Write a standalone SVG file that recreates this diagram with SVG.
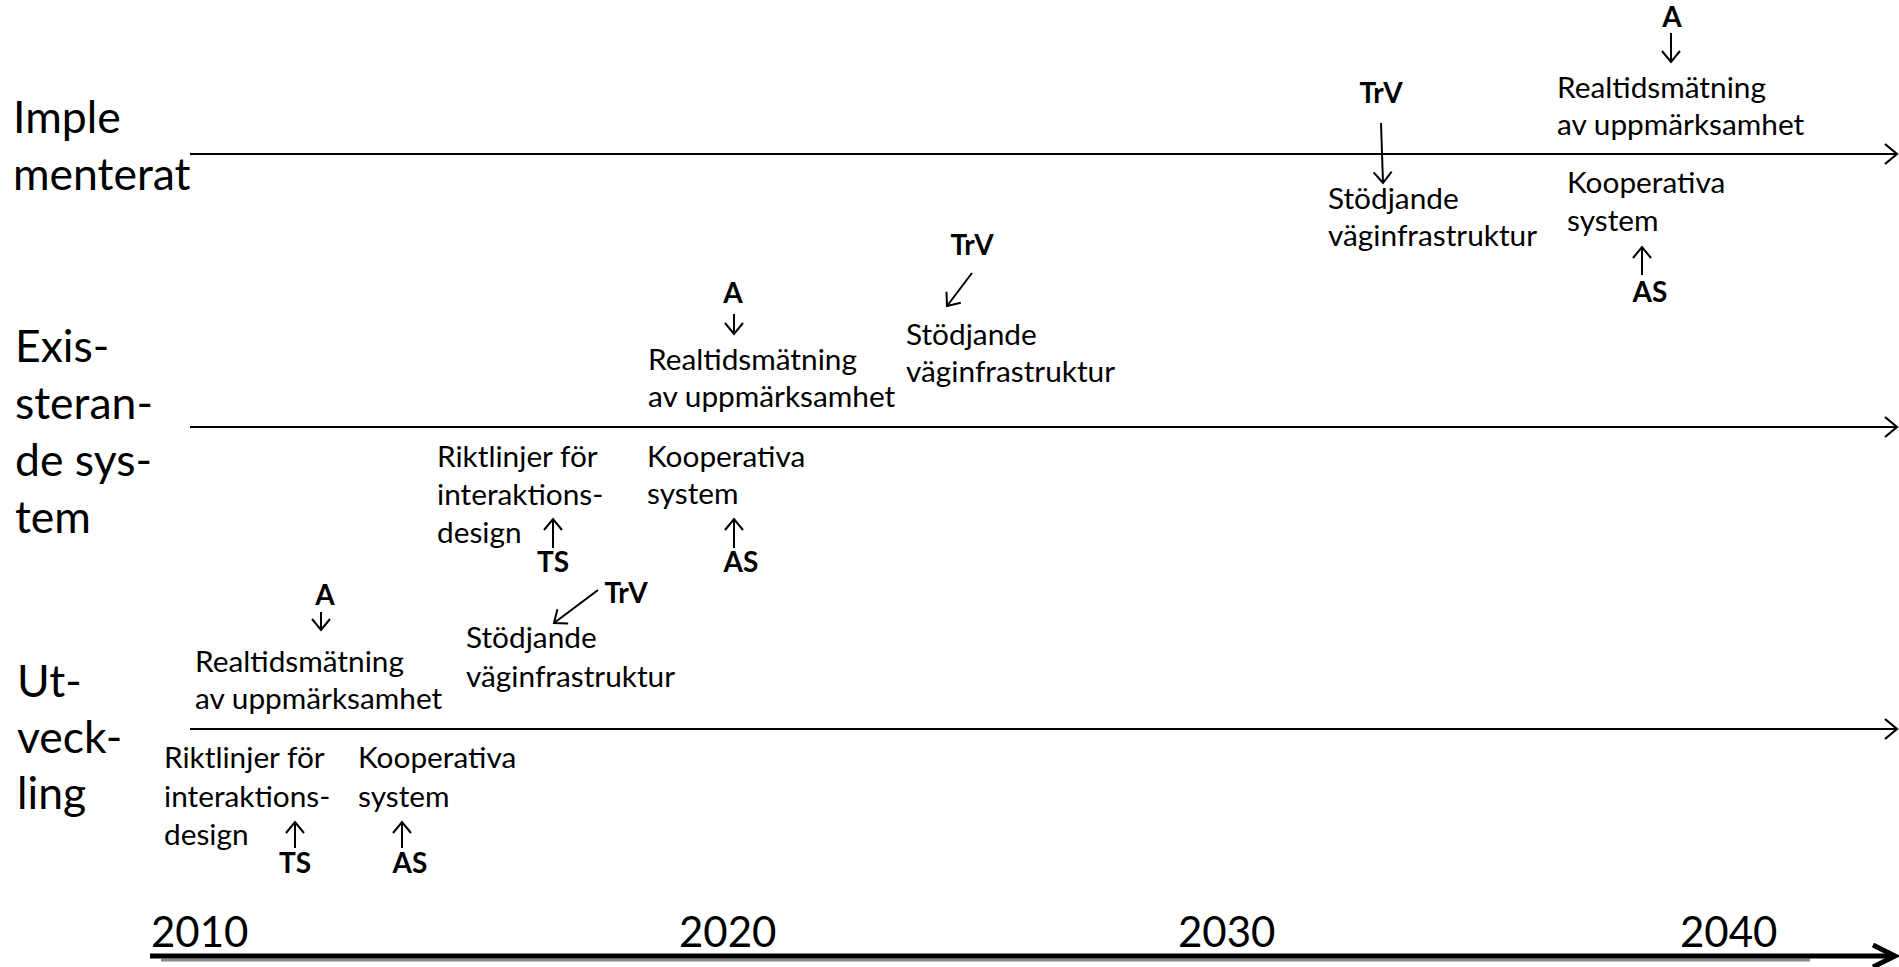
<svg xmlns="http://www.w3.org/2000/svg" width="1899" height="967" viewBox="0 0 1899 967">
<style>
text { font-family: Lato, "Open Sans", "Liberation Sans", sans-serif; fill: #000; }
.t { font-size: 29.8px; }
.b { font-size: 28px; font-weight: bold; }
.lane { font-size: 44.5px; }
.yr { font-size: 42px; }
.tl { stroke: #000; stroke-width: 2.2; fill: none; }
.ar { stroke: #000; stroke-width: 2; fill: none; }
</style>
<defs>
<marker id="tlhead" markerUnits="userSpaceOnUse" markerWidth="16" markerHeight="24" refX="13" refY="11" orient="auto" viewBox="0 0 16 24">
<path d="M1,1 L13,11 L1,21" fill="none" stroke="#000" stroke-width="2.2"/>
</marker>
<marker id="axhead" markerUnits="userSpaceOnUse" markerWidth="30" markerHeight="30" refX="24" refY="13" orient="auto" viewBox="0 0 30 30">
<path d="M2,2 L24,13 L2,24" fill="none" stroke="#000" stroke-width="5"/>
</marker>
<marker id="sm" markerUnits="userSpaceOnUse" markerWidth="14" markerHeight="22" refX="12" refY="10" orient="auto" viewBox="0 0 14 22">
<path d="M1,1 L12,10 L1,19" fill="none" stroke="#000" stroke-width="2"/>
</marker>
</defs>
<rect width="1899" height="967" fill="#fff"/>

<g id="lane-implementerat">
<text class="lane" x="13" y="133">Imple</text>
<text class="lane" x="13" y="190">menterat</text>
</g>
<g id="lane-existerande">
<text class="lane" x="15" y="362">Exis-</text>
<text class="lane" x="15" y="419">steran-</text>
<text class="lane" x="15" y="476">de sys-</text>
<text class="lane" x="15" y="533">tem</text>
</g>
<g id="lane-utveckling">
<text class="lane" x="17" y="697">Ut-</text>
<text class="lane" x="17" y="753">veck-</text>
<text class="lane" x="17" y="809">ling</text>
</g>

<g id="years">
<text class="yr" x="151" y="947">2010</text>
<text class="yr" x="679" y="947">2020</text>
<text class="yr" x="1178" y="947">2030</text>
<text class="yr" x="1680" y="947">2040</text>
</g>

<!-- Implementerat -->
<g id="impl-stodjande">
<text class="b" x="1381" y="103" text-anchor="middle">TrV</text>
<text class="t" x="1328" y="209">Stödjande</text>
<text class="t" x="1328" y="246">väginfrastruktur</text>
</g>
<g id="impl-realtid">
<text class="b" x="1672" y="27" text-anchor="middle">A</text>
<text class="t" x="1557" y="98">Realtidsmätning</text>
<text class="t" x="1557" y="135">av uppmärksamhet</text>
</g>
<g id="impl-kooperativa">
<text class="t" x="1567" y="193">Kooperativa</text>
<text class="t" x="1567" y="231">system</text>
<text class="b" x="1650" y="302" text-anchor="middle">AS</text>
</g>

<!-- Existerande system -->
<g id="exist-realtid">
<text class="b" x="733" y="303" text-anchor="middle">A</text>
<text class="t" x="648" y="370">Realtidsmätning</text>
<text class="t" x="648" y="407">av uppmärksamhet</text>
</g>
<g id="exist-stodjande">
<text class="b" x="972" y="255" text-anchor="middle">TrV</text>
<text class="t" x="906" y="345">Stödjande</text>
<text class="t" x="906" y="382">väginfrastruktur</text>
</g>
<g id="exist-riktlinjer">
<text class="t" x="437" y="467">Riktlinjer för</text>
<text class="t" x="437" y="505">interaktions-</text>
<text class="t" x="437" y="543">design</text>
<text class="b" x="553" y="572" text-anchor="middle">TS</text>
</g>
<g id="exist-kooperativa">
<text class="t" x="647" y="467">Kooperativa</text>
<text class="t" x="647" y="504">system</text>
<text class="b" x="741" y="572" text-anchor="middle">AS</text>
</g>

<!-- Utveckling -->
<g id="dev-realtid">
<text class="b" x="325" y="605" text-anchor="middle">A</text>
<text class="t" x="195" y="672">Realtidsmätning</text>
<text class="t" x="195" y="709">av uppmärksamhet</text>
</g>
<g id="dev-stodjande">
<text class="b" x="626" y="603" text-anchor="middle">TrV</text>
<text class="t" x="466" y="648">Stödjande</text>
<text class="t" x="466" y="687">väginfrastruktur</text>
</g>
<g id="dev-riktlinjer">
<text class="t" x="164" y="768">Riktlinjer för</text>
<text class="t" x="164" y="807">interaktions-</text>
<text class="t" x="164" y="845">design</text>
<text class="b" x="295" y="873" text-anchor="middle">TS</text>
</g>
<g id="dev-kooperativa">
<text class="t" x="358" y="768">Kooperativa</text>
<text class="t" x="358" y="807">system</text>
<text class="b" x="410" y="873" text-anchor="middle">AS</text>
</g>

<g id="connectors">
<!-- timelines -->
<line class="tl" x1="190" y1="154" x2="1897" y2="154" marker-end="url(#tlhead)"/>
<line class="tl" x1="190" y1="427" x2="1897" y2="427" marker-end="url(#tlhead)"/>
<line class="tl" x1="190" y1="729" x2="1897" y2="729" marker-end="url(#tlhead)"/>
<line x1="161" y1="960" x2="1810" y2="960" stroke="#8a8a8a" stroke-width="3"/>
<line x1="150" y1="956" x2="1895" y2="956" stroke="#000" stroke-width="5" marker-end="url(#axhead)"/>
<!-- agency arrows -->
<line class="ar" x1="1381" y1="123" x2="1383" y2="183" marker-end="url(#sm)"/>
<line class="ar" x1="1671" y1="33" x2="1671" y2="62" marker-end="url(#sm)"/>
<line class="ar" x1="1642" y1="275" x2="1642" y2="247" marker-end="url(#sm)"/>
<line class="ar" x1="734" y1="314" x2="734" y2="334" marker-end="url(#sm)"/>
<line class="ar" x1="972" y1="273" x2="947" y2="306" marker-end="url(#sm)"/>
<line class="ar" x1="553" y1="548" x2="553" y2="519" marker-end="url(#sm)"/>
<line class="ar" x1="734" y1="548" x2="734" y2="519" marker-end="url(#sm)"/>
<line class="ar" x1="321" y1="612" x2="321" y2="630" marker-end="url(#sm)"/>
<line class="ar" x1="598" y1="590" x2="554" y2="623" marker-end="url(#sm)"/>
<line class="ar" x1="295" y1="848" x2="295" y2="822" marker-end="url(#sm)"/>
<line class="ar" x1="402" y1="848" x2="402" y2="822" marker-end="url(#sm)"/>
</g>
</svg>
